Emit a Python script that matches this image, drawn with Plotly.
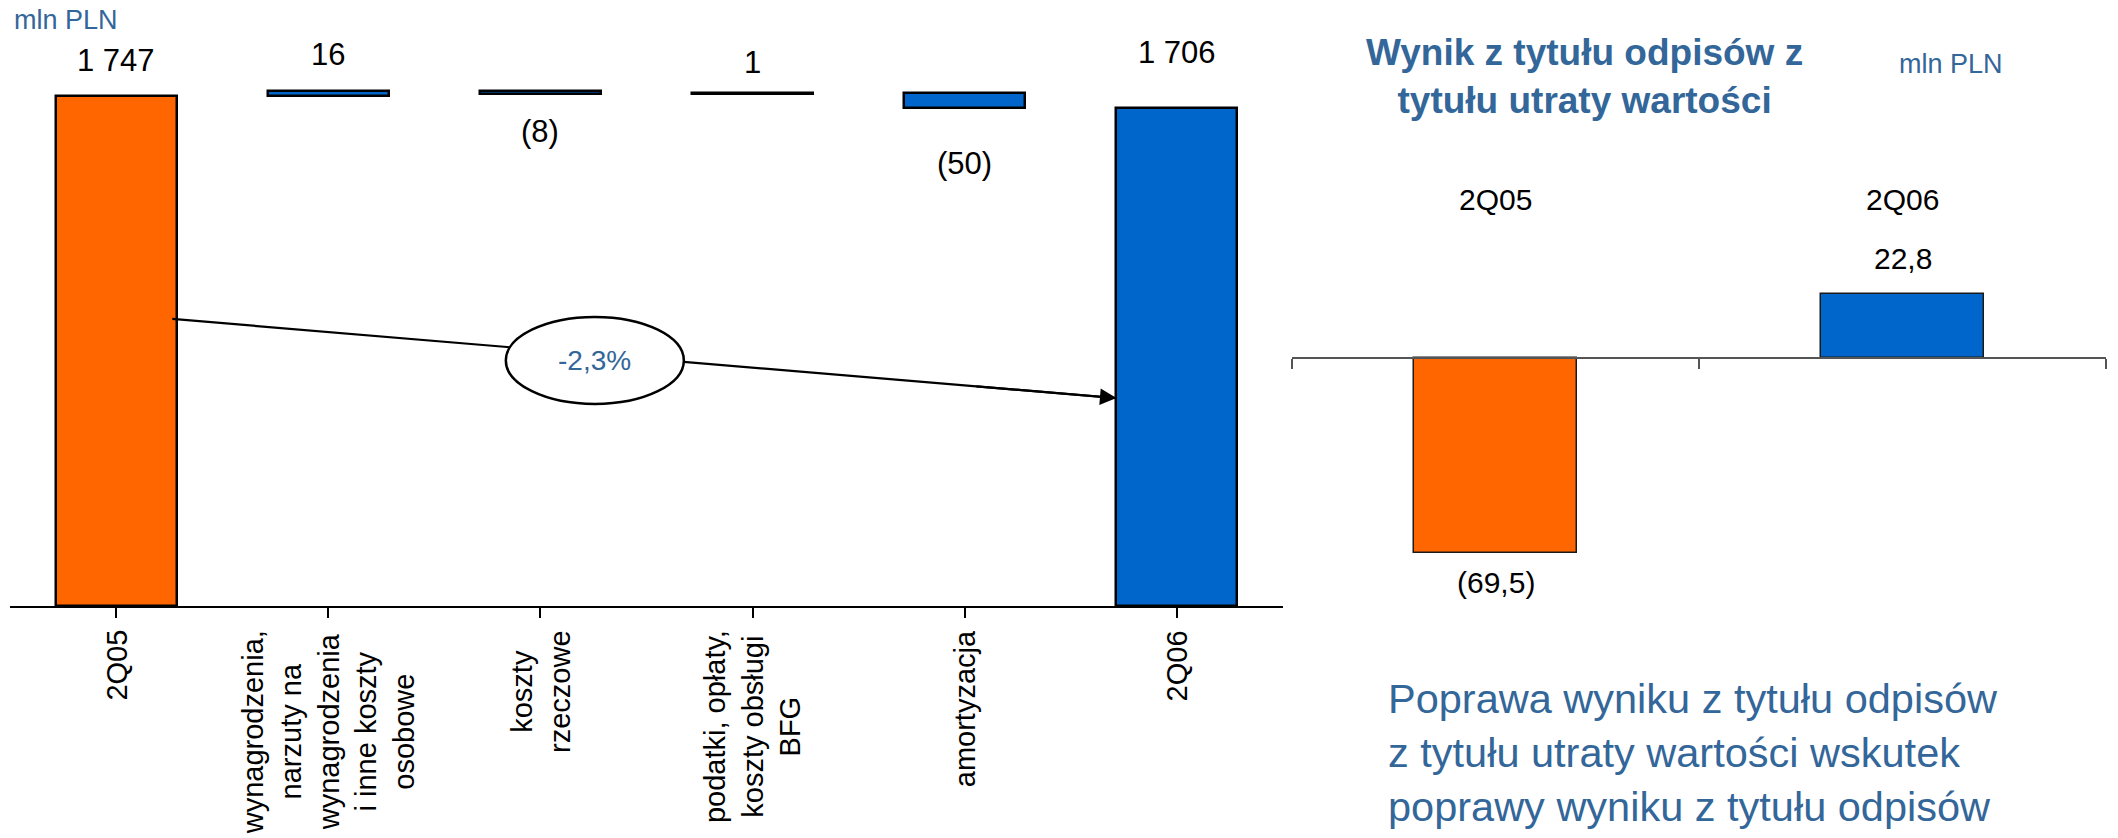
import plotly.graph_objects as go

W, H = 2118, 838

# ---------------- data ----------------
wf_categories = [
    "2Q05",
    "wynagrodzenia,<br>narzuty na<br>wynagrodzenia<br>i inne koszty<br>osobowe",
    "koszty<br>rzeczowe",
    "podatki, opłaty,<br>koszty obsługi<br>BFG",
    "amortyzacja",
    "2Q06",
]
wf_start = 1747
wf_deltas = [16, -8, 1, -50]
wf_end = 1706
change_label = "-2,3%"

imp_categories = ["2Q05", "2Q06"]
imp_values = [-69.5, 22.8]

unit_label = "mln PLN"
imp_title = "Wynik z tytułu odpisów z<br>tytułu utraty wartości"
imp_note = ("Poprawa wyniku z tytułu odpisów<br>z tytułu utraty wartości wskutek"
            "<br>poprawy wyniku z tytułu odpisów")

# ---------------- styling ----------------
ORANGE = "#FF6600"
BLUE = "#0066CC"
STEEL = "#336699"
FONT = "Arial, Liberation Sans, sans-serif"
left_label_gap = [35, 37, 38, 31, 56, 55]   # px offsets of value labels
right_label_gap = [30, 36]

# ---------------- derived waterfall geometry ----------------
wf_values = [wf_start] + wf_deltas + [wf_end]
wf_bases = [0]
running = wf_start
for d in wf_deltas:
    wf_bases.append(running)
    running += d
wf_bases.append(0)
wf_colors = [ORANGE] + [BLUE] * len(wf_deltas) + [BLUE]
x_idx = list(range(len(wf_categories)))


def fmt_int(v):
    s = f"{abs(v):,}".replace(",", " ")
    return f"({s})" if v < 0 else s


def fmt_dec(v):
    s = f"{abs(v):.1f}".replace(".", ",")
    return f"({s})" if v < 0 else s


fig = go.Figure()

fig.add_trace(go.Bar(
    x=x_idx, y=wf_values, base=wf_bases, width=0.57,
    marker=dict(color=wf_colors, line=dict(color="black", width=2.5)),
    xaxis="x", yaxis="y", showlegend=False, hoverinfo="skip",
))

fig.add_trace(go.Bar(
    x=list(range(len(imp_categories))), y=imp_values, width=0.4,
    marker=dict(color=[ORANGE, BLUE], line=dict(color="#1a1a1a", width=1.5)),
    xaxis="x2", yaxis="y2", showlegend=False, hoverinfo="skip",
))

PX_PER_UNIT_L = 0.292
PX_PER_UNIT_R = 2.8
AX_L = 606
AX_R = 358

annotations = []

# value labels, left
for i, (b, v) in enumerate(zip(wf_bases, wf_values)):
    if i == 0 or i == len(wf_values) - 1:
        yend, txt, sign = v, fmt_int(v), 1
    else:
        yend, txt, sign = b + v, fmt_int(v), (1 if v > 0 else -1)
    annotations.append(dict(
        x=i, y=yend, xref="x", yref="y", text=txt, showarrow=False,
        yanchor="middle", yshift=sign * left_label_gap[i],
        font=dict(family=FONT, size=31, color="black")))

# rotated category labels, left
for i, c in enumerate(wf_categories):
    annotations.append(dict(
        x=i, y=(H - 628) / H, xref="x", yref="paper", text=c, showarrow=False,
        textangle=-90, align="center", xanchor="center", yanchor="top",
        font=dict(family=FONT, size=29, color="black")))

# right chart value labels + category labels
for i, v in enumerate(imp_values):
    annotations.append(dict(
        x=i, y=v, xref="x2", yref="y2", text=fmt_dec(v), showarrow=False,
        yanchor="middle", yshift=(1 if v > 0 else -1) * right_label_gap[i],
        font=dict(family=FONT, size=30, color="black")))
    annotations.append(dict(
        x=i, y=(H - 200) / H, xref="x2", yref="paper", text=imp_categories[i],
        showarrow=False, yanchor="middle",
        font=dict(family=FONT, size=30, color="black")))

# unit labels, title, note
annotations += [
    dict(x=12 / W, y=(H - 20) / H, xref="paper", yref="paper", text=unit_label,
         showarrow=False, xanchor="left", yanchor="middle",
         font=dict(family=FONT, size=27, color=STEEL)),
    dict(x=1897 / W, y=(H - 64) / H, xref="paper", yref="paper", text=unit_label,
         showarrow=False, xanchor="left", yanchor="middle",
         font=dict(family=FONT, size=27, color=STEEL)),
    dict(x=1584 / W, y=(H - 77) / H, xref="paper", yref="paper",
         text="<b>" + imp_title.replace("<br>", "</b><br><b>") + "</b>",
         showarrow=False, xanchor="center", yanchor="middle", align="center",
         font=dict(family=FONT, size=37, color=STEEL)),
    dict(x=1386 / W, y=(H - 752) / H, xref="paper", yref="paper", text=imp_note,
         showarrow=False, xanchor="left", yanchor="middle", align="left",
         font=dict(family=FONT, size=41.5, color=STEEL)),
]

# change arrow with ellipse
bar_half = 0.57 / 2
x0a, y0a = 0 + bar_half - 0.02, 983
x1a, y1a = 5 - bar_half, 712
t = 0.85
annotations.append(dict(
    x=x1a, y=y1a, xref="x", yref="y",
    ax=x0a + t * (x1a - x0a), ay=y0a + t * (y1a - y0a), axref="x", ayref="y",
    text="", showarrow=True, arrowhead=2, arrowsize=1.5, arrowwidth=2.2,
    arrowcolor="black", standoff=0, startstandoff=0))
annotations.append(dict(
    x=(1.837 + 2.676) / 2, y=(990 + 692) / 2, xref="x", yref="y",
    text=change_label, showarrow=False,
    font=dict(family=FONT, size=28, color=STEEL)))

shapes = [
    dict(type="line", xref="x", yref="y", x0=x0a, y0=y0a, x1=x1a, y1=y1a,
         line=dict(color="black", width=2.2), layer="above"),
    dict(type="circle", xref="x", yref="y", x0=1.837, x1=2.676, y0=692, y1=990,
         fillcolor="white", line=dict(color="black", width=2.5), layer="above"),
]

fig.update_layout(
    width=W, height=H,
    margin=dict(l=0, r=0, t=0, b=0),
    paper_bgcolor="white", plot_bgcolor="rgba(0,0,0,0)",
    bargap=0, showlegend=False,
    font=dict(family=FONT),
    xaxis=dict(domain=[10 / W, 1283 / W], anchor="y", range=[-0.5, 5.5],
               tickmode="array", tickvals=x_idx, ticktext=[""] * len(x_idx),
               tickson="boundaries", ticks="outside", ticklen=10, tickwidth=2,
               tickcolor="black", showline=True, linecolor="black", linewidth=2,
               showticklabels=False, showgrid=False, zeroline=False, type="linear"),
    yaxis=dict(domain=[(H - AX_L) / H, 1], range=[0, AX_L / PX_PER_UNIT_L],
               visible=False, anchor="x"),
    xaxis2=dict(domain=[1292 / W, 2106 / W], anchor="free", position=(H - AX_R) / H,
                range=[-0.5, 1.5], tickmode="linear", tick0=-0.5, dtick=1,
                ticks="outside", ticklen=10, tickwidth=2, tickcolor="#555555",
                showline=True, linecolor="#555555", linewidth=2,
                showticklabels=False, showgrid=False, zeroline=False),
    yaxis2=dict(domain=[(H - 700) / H, (H - 120) / H],
                range=[-(700 - AX_R) / PX_PER_UNIT_R, (AX_R - 120) / PX_PER_UNIT_R],
                visible=False, anchor="x2"),
    annotations=annotations,
    shapes=shapes,
)

fig.write_html(
    "out.html",
    config={"displayModeBar": False},
    post_script="document.body.style.margin='0';document.body.style.overflow='hidden';",
)
